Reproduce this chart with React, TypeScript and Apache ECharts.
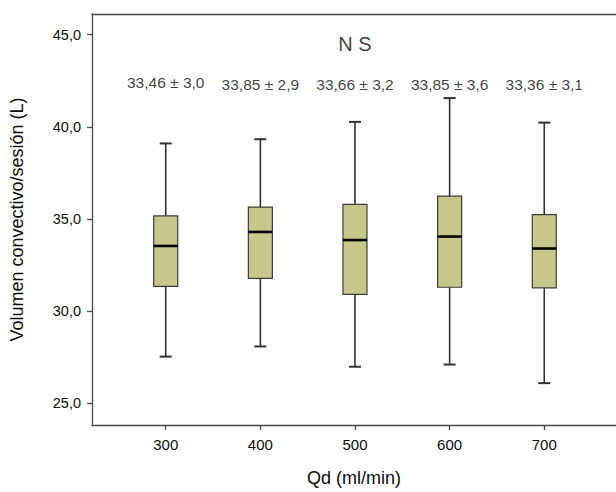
import React, { useEffect, useRef } from "react";
import * as echarts from "echarts";

const categories = [300, 400, 500, 600, 700];
const whiskerLow = [27.54, 28.09, 26.99, 27.11, 26.1];
const q1 = [31.35, 31.78, 30.91, 31.3, 31.27];
const median = [33.54, 34.3, 33.86, 34.05, 33.4];
const q3 = [35.17, 35.65, 35.8, 36.24, 35.24];
const whiskerHigh = [39.1, 39.33, 40.27, 41.56, 40.23];
const means = ["33,46", "33,85", "33,66", "33,85", "33,36"];
const sds = ["3,0", "2,9", "3,2", "3,6", "3,1"];
const labelY = [42.41, 42.28, 42.28, 42.28, 42.28];
const yTicks = [25, 30, 35, 40, 45];
const annotation = "N S";

const FONT = "'Liberation Sans', Arial, Helvetica, sans-serif";

export default function App() {
  const ref = useRef<HTMLDivElement>(null);
  useEffect(() => {
    document.body.style.margin = "0";
    if (!ref.current) return;
    const chart = echarts.init(ref.current, null, { renderer: "svg" });
    const boxData = categories.map((c, i) => [c, whiskerLow[i], q1[i], median[i], q3[i], whiskerHigh[i]]);
    const labelData = categories.map((c, i) => [c, labelY[i], means[i], sds[i]]);
    const axisColor = "#4a4a4a";
    const textColor = "#0d0d0d";
    chart.setOption({
      animation: false,
      textStyle: { fontFamily: FONT },
      grid: { left: 90, right: 0, top: 14, bottom: 60 },
      xAxis: [
        {
          type: "value",
          min: 222.1,
          max: 775.8,
          splitLine: { show: false },
          axisLine: { show: true, lineStyle: { color: axisColor, width: 1.3 } },
          axisTick: { show: true, customValues: categories, length: 5, lineStyle: { color: axisColor, width: 1.3 } },
          axisLabel: { customValues: categories, color: textColor, fontSize: 15, margin: 12, fontFamily: FONT },
          name: "Qd (ml/min)",
          nameLocation: "middle",
          nameGap: 44,
          nameTextStyle: { fontSize: 18, color: textColor, fontFamily: FONT },
        },
        {
          type: "value",
          position: "top",
          min: 222.1,
          max: 775.8,
          splitLine: { show: false },
          axisLine: { show: true, onZero: false, lineStyle: { color: axisColor, width: 1.3 } },
          axisTick: { show: false },
          axisLabel: { show: false },
        },
      ],
      yAxis: {
        type: "value",
        min: 23.83,
        max: 46.12,
        splitLine: { show: false },
        axisLine: { show: true, lineStyle: { color: axisColor, width: 1.3 } },
        axisTick: { show: true, customValues: yTicks, length: 5, lineStyle: { color: axisColor, width: 1.3 } },
        axisLabel: {
          customValues: yTicks,
          color: textColor,
          fontSize: 14.5,
          margin: 11,
          fontFamily: FONT,
          formatter: (v: number) => v.toFixed(1).replace(".", ","),
        },
        name: "Volumen convectivo/sesión (L)",
        nameLocation: "middle",
        nameGap: 66,
        nameTextStyle: { fontSize: 18, color: textColor, fontFamily: FONT },
      },
      series: [
        {
          type: "custom",
          xAxisIndex: 0,
          data: boxData,
          renderItem: (params: any, api: any) => {
            const x = api.value(0);
            const lo = api.coord([x, api.value(1)]);
            const b1 = api.coord([x, api.value(2)]);
            const md = api.coord([x, api.value(3)]);
            const b3 = api.coord([x, api.value(4)]);
            const hi = api.coord([x, api.value(5)]);
            const cx = lo[0];
            const halfBox = 12;
            const halfCap = 6;
            const wStyle = { stroke: "#333", lineWidth: 1.6 };
            return {
              type: "group",
              children: [
                { type: "line", shape: { x1: cx, y1: hi[1], x2: cx, y2: b3[1] }, style: wStyle },
                { type: "line", shape: { x1: cx, y1: b1[1], x2: cx, y2: lo[1] }, style: wStyle },
                { type: "line", shape: { x1: cx - halfCap, y1: hi[1], x2: cx + halfCap, y2: hi[1] }, style: { stroke: "#333", lineWidth: 2 } },
                { type: "line", shape: { x1: cx - halfCap, y1: lo[1], x2: cx + halfCap, y2: lo[1] }, style: { stroke: "#333", lineWidth: 2 } },
                {
                  type: "rect",
                  shape: { x: cx - halfBox, y: b3[1], width: halfBox * 2, height: b1[1] - b3[1] },
                  style: { fill: "#c8c78b", stroke: "#3c3c3c", lineWidth: 1.2 },
                },
                { type: "line", shape: { x1: cx - halfBox, y1: md[1], x2: cx + halfBox, y2: md[1] }, style: { stroke: "#000", lineWidth: 2.6 } },
              ],
            };
          },
        },
        {
          type: "scatter",
          xAxisIndex: 0,
          data: labelData,
          symbolSize: 0,
          silent: true,
          label: {
            show: true,
            position: "inside",
            fontSize: 15.5,
            color: textColor,
            fontFamily: FONT,
            formatter: (p: any) => `${p.data[2]} ± ${p.data[3]}`,
          },
        },
        {
          type: "scatter",
          xAxisIndex: 0,
          data: [[500, 44.5]],
          symbolSize: 0,
          silent: true,
          label: {
            show: true,
            position: "inside",
            fontSize: 20,
            color: textColor,
            fontFamily: FONT,
            formatter: () => annotation,
          },
        },
      ],
    });
    return () => chart.dispose();
  }, []);
  return <div ref={ref} style={{ width: 616, height: 492 }} />;
}
